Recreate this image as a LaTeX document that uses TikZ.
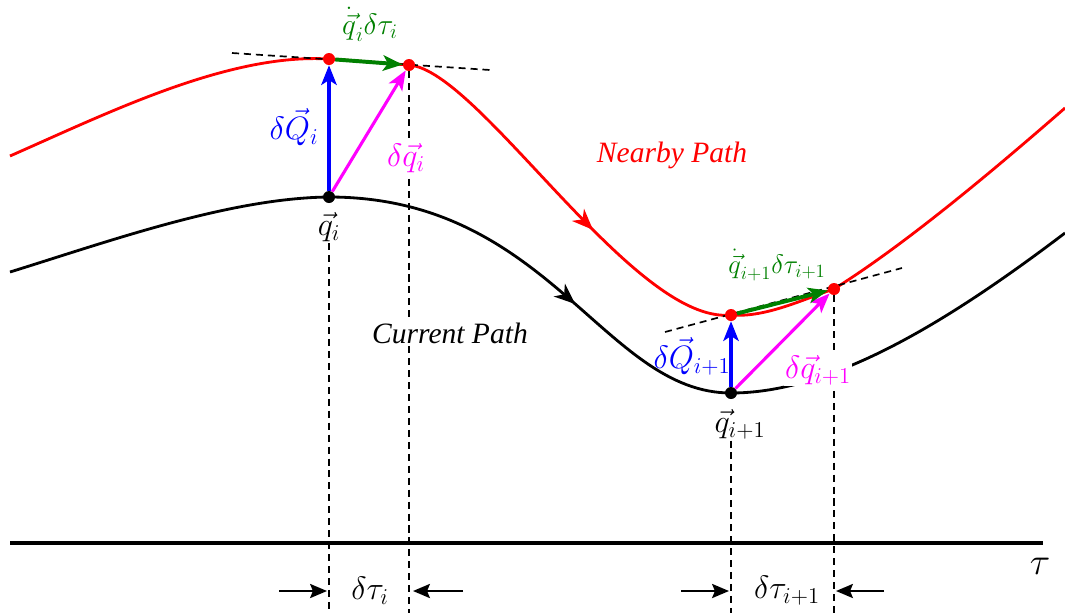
\RequirePackage{fix-cm}
\documentclass[tikz,border=0pt]{standalone}
\usepackage{fontspec}
\setmainfont{Liberation Serif}
\usetikzlibrary{arrows.meta, decorations.markings}
\definecolor{vmag}{RGB}{255,0,255}
\definecolor{vgreen}{RGB}{0,128,0}

\begin{document}
\begin{tikzpicture}[
    x=0.025cm, y=-0.025cm,
    font=\fontsize{21}{25}\selectfont,
    dot/.style={circle, fill=#1, inner sep=0pt, minimum size=0.3cm},
    path line/.style={draw=#1, line width=2pt},
    guide/.style={draw=black, dash pattern=on 5pt off 3.5pt, line width=1.2pt},
    vecarr/.style={-{Stealth[length=14pt, width=11pt, inset=3.5pt]}, draw=#1, line width=2.2pt},
    gaparr/.style={-{Stealth[length=12pt, width=10pt, inset=2pt]}, draw=black, line width=1.6pt},
    midarr/.style={postaction={decorate}, decoration={markings, mark=at position #1 with {\arrow{Stealth[length=15pt, width=12pt, inset=4.5pt]}}}},
    lbl/.style={inner sep=1pt, font=\fontsize{23}{27}\selectfont},
    cover/.style={lbl, fill=white}
  ]
  \useasboundingbox (0,0) rectangle (1065,613);

  \draw[path line=black] (10,272) .. controls (110,241) and (230,198) .. (329,197);
  \draw[path line=black, midarr=0.6] (329,197) .. controls (549,197) and (604,393) .. (731,393);
  \draw[path line=black] (731,393) .. controls (831,393) and (945,324) .. (1065,233);

  \draw[path line=red] (10,156) .. controls (110,112) and (229,53) .. (329,59)
    .. controls (360,61) and (380,63) .. (409,65);
  \draw[path line=red, midarr=0.6] (409,65) .. controls (479,70) and (634,325) .. (731,315);
  \draw[path line=red] (731,315) .. controls (766,318) and (806,298) .. (834,289)
    .. controls (906,244) and (995,169) .. (1065,108);

  \coordinate (ta1) at (232,53);
  \coordinate (tb1) at (490,70);
  \coordinate (ta2) at (665,332);
  \coordinate (tb2) at (902,268);
  \draw[guide] (ta1) -- (tb1);
  \draw[guide] (ta2) -- (tb2);

  \node[dot=black] (qi) at (329,197) {};
  \node[dot=black] (qn) at (731,393) {};
  \node[dot=red] (Qi) at (329,59) {};
  \node[dot=red] (Ti) at (409,65) {};
  \node[dot=red] (Qn) at (731,315) {};
  \node[dot=red] (Tn) at (834,289) {};

  \node[lbl] (lqi) at (329,227) {$\vec{q}_i$};
  \node[lbl] (lqn) at (740,424) {$\vec{q}_{i+1}$};

  \coordinate (bqi) at (329,613);
  \coordinate (bti) at (409,613);
  \coordinate (bqn) at (731,613);
  \coordinate (btn) at (834,613);
  \draw[guide] (qi |- lqi.south) -- (bqi);
  \draw[guide] (Ti) -- (bti);
  \draw[guide] (qn |- lqn.south) -- (bqn);
  \draw[guide] (Tn) -- (btn);

  \coordinate (ax0) at (10,543);
  \coordinate (ax1) at (1043,543);
  \draw[line width=3pt] (ax0) -- (ax1);
  \node[lbl, font=\fontsize{27}{31}\selectfont] (tau) at (1040,566) {$\tau$};

  \node[cover, font=\fontsize{21}{25}\selectfont] (cur) at (450,333) {\itshape Current Path};
  \node[lbl, text=red, font=\fontsize{21}{25}\selectfont] (near) at (672,155) {\itshape Nearby Path};
  \node[cover, text=vmag] (dqi) at (406,158) {$\delta\vec{q}_i$};
  \node[cover, text=vmag] (dqn) at (818,370) {$\delta\vec{q}_{i+1}$};
  \node[lbl, text=blue] (dQi) at (294,127) {$\delta\vec{Q}_i$};
  \node[lbl, text=blue] (dQn) at (692,356) {$\delta\vec{Q}_{i+1}$};
  \node[lbl, text=vgreen, font=\fontsize{21}{25}\selectfont] (vi) at (370,24) {$\dot{\vec{q}}_i\delta\tau_i$};
  \node[lbl, text=vgreen, font=\fontsize{19}{23}\selectfont] (vn) at (777,265) {$\dot{\vec{q}}_{i+1}\delta\tau_{i+1}$};

  \draw[vecarr=blue] (qi) -- (Qi);
  \draw[vecarr=vmag] (qi) -- (Ti);
  \draw[vecarr=vgreen, line width=2.8pt] (Qi) -- (Ti);
  \draw[vecarr=blue] (qn) -- (Qn);
  \draw[vecarr=vmag] (qn) -- (Tn);
  \draw[vecarr=vgreen, line width=2.8pt] (Qn) -- (Tn);

  \node[lbl] (dti) at (370,591) {$\delta\tau_i$};
  \node[lbl] (dtn) at (787,591) {$\delta\tau_{i+1}$};
  \coordinate (la1) at (279,591);
  \coordinate (lb1) at (327,591);
  \coordinate (ra1) at (463,591);
  \coordinate (rb1) at (413,591);
  \coordinate (la2) at (681,591);
  \coordinate (lb2) at (729,591);
  \coordinate (ra2) at (884,591);
  \coordinate (rb2) at (836,591);
  \draw[gaparr] (la1) -- (lb1);
  \draw[gaparr] (ra1) -- (rb1);
  \draw[gaparr] (la2) -- (lb2);
  \draw[gaparr] (ra2) -- (rb2);
\end{tikzpicture}
\end{document}
